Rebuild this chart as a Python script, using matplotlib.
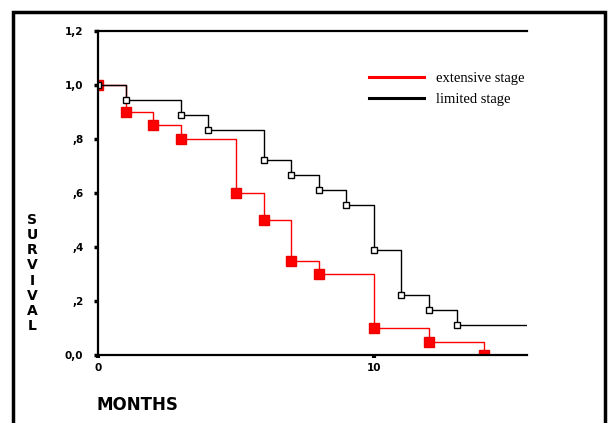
import matplotlib
matplotlib.use("Agg")
import matplotlib.pyplot as plt
from matplotlib.patches import Rectangle

# Data
ext_months = [0, 1, 2, 3, 5, 6, 7, 8, 10, 12, 14]
ext_surv = [1.0, 0.9, 0.85, 0.8, 0.6, 0.5, 0.35, 0.3, 0.1, 0.05, 0.0]
lim_months = [0, 1, 3, 4, 6, 7, 8, 9, 10, 11, 12, 13]
lim_surv = [1.0, 0.944, 0.889, 0.833, 0.722, 0.667, 0.611, 0.556, 0.389, 0.222, 0.167, 0.111]
lim_end = 15.5
yticks = [0.0, 0.2, 0.4, 0.6, 0.8, 1.0, 1.2]
ytick_labels = ["0,0", ",2", ",4", ",6", ",8", "1,0", "1,2"]
xticks = [0, 10]
xtick_labels = ["0", "10"]

fig = plt.figure(figsize=(6.08, 4.23), dpi=100)
ax = fig.add_axes([98/608, 1-355/423, (527-98)/608, (355-31)/423])

# extensive stage
ax.step(ext_months, ext_surv, where="post", color="#ff0000", lw=1.0, label="extensive stage")
ax.plot(ext_months, ext_surv, ls="none", marker="s", ms=6.5, color="#ff0000", mec="#ee0000")

# limited stage
lx = lim_months + [lim_end]
ly = lim_surv + [lim_surv[-1]]
ax.step(lx, ly, where="post", color="black", lw=1.0, label="limited stage")
ax.plot(lim_months, lim_surv, ls="none", marker="s", ms=5, mfc="white", mec="black", mew=1.0)

ax.set_xlim(0, 15.55)
ax.set_ylim(0, 1.2)
ax.spines["right"].set_visible(False)
for s in ["left", "bottom", "top"]:
    ax.spines[s].set_linewidth(1.6)
ax.set_yticks(yticks)
ax.set_yticklabels(ytick_labels, fontfamily="DejaVu Sans", fontsize=7.5, fontweight="bold")
ax.set_xticks(xticks)
ax.set_xticklabels(xtick_labels, fontfamily="DejaVu Sans", fontsize=7.5, fontweight="bold")
ax.tick_params(axis="y", direction="out", length=3, width=2.5, pad=7.5)
ax.tick_params(axis="x", direction="out", length=2, width=3, pad=4)

leg = ax.legend(loc="upper left", bbox_to_anchor=((369-98)/429, 1-(72-31)/324),
                frameon=False, prop={"family": "Liberation Serif", "size": 10.5},
                handlelength=3.8, handletextpad=0.8, labelspacing=0.5, borderpad=0, borderaxespad=0)
for h in leg.get_lines():
    h.set_linewidth(2.2)

# vertical stacked y label
fig.text(32/608, 1-273/423, "\n".join("SURVIVAL"), ha="center", va="center",
         fontfamily="DejaVu Sans", fontweight="bold", fontsize=10, linespacing=1.1)
fig.text(97/608, 1-405/423, "MONTHS", ha="left", va="center",
         fontfamily="DejaVu Sans", fontweight="bold", fontsize=12)

# outer frame
fig.patches.append(Rectangle((13/608, -0.1), (605-13)/608, 1.1 - 12/423,
                             transform=fig.transFigure, fill=False, lw=2.5, ec="black"))

fig.savefig("out.png", dpi=100)
